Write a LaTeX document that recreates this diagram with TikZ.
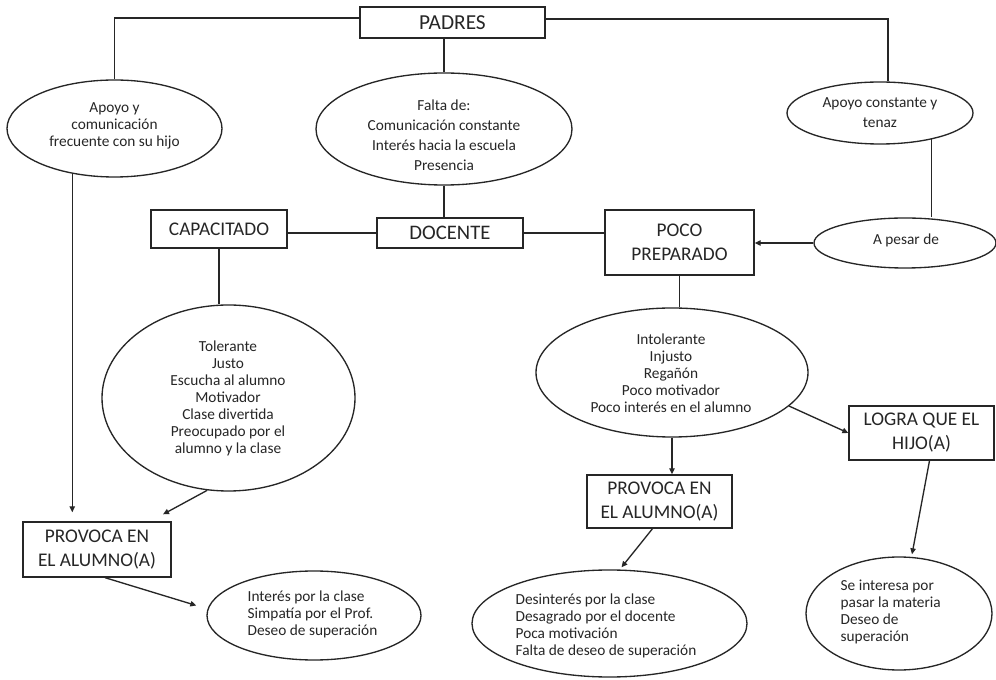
\documentclass[tikz,border=0pt]{standalone}
\usepackage{fontspec}
\setmainfont{Carlito}
\usetikzlibrary{shapes.geometric,arrows.meta,calc}
\begin{document}
\begin{tikzpicture}[x=0.75pt,y=-0.75pt,
  line width=1pt, color=black!85,
  el/.style 2 args={draw, ellipse, inner sep=0pt, minimum width=#1*0.75pt, minimum height=#2*0.75pt},
  bx/.style 2 args={draw, rectangle, inner sep=0pt, minimum width=#1*0.75pt, minimum height=#2*0.75pt, align=center, font=\fontsize{14.5}{18}\selectfont},
  txt/.style={inner sep=0pt, font=\fontsize{11.5}{12.75}\selectfont},
  arr/.style={-{Triangle[length=4.5pt,width=4pt]}}
]
\fill[white] (0,0) rectangle (996,680);
\useasboundingbox (0,0) rectangle (996,680);

\coordinate (y18) at (0,18);
\coordinate (y19) at (0,19);
\coordinate (x888) at (888,0);

% nodes
\node[bx={185}{31}, font=\fontsize{16}{19}\selectfont] (padres) at (452.5,22.5) {PADRES};
\node[el={215}{97}] (lell) at (114.5,128.5) {};
\node[txt, align=center] (lellT) at (114.5,126) {Apoyo y\\comunicación\\frecuente con su hijo};
\node[el={256}{112}] (mid) at (444,129) {};
\node[txt, align=center, font=\fontsize{11.5}{15}\selectfont] (midT) at (444,135) {Falta de:\\Comunicación constante\\Interés hacia la escuela\\Presencia};
\node[el={186}{62}] (apc) at (880,113) {};
\node[txt, align=center, font=\fontsize{11.5}{15}\selectfont] (apcT) at (880,113) {Apoyo constante y\\tenaz};
\node[el={182}{50}] (ap) at (905,243) {};
\node[txt] (apT) at (906,240) {A pesar de};

\node[bx={136}{38}] (cap) at (219,229) {CAPACITADO};
\node[bx={146}{30}, font=\fontsize{15.5}{18}\selectfont] (doc) at (450,233) {DOCENTE};
\node[bx={149}{65}] (poco) at (679.5,242.5) {POCO\\PREPARADO};

\node[el={253}{186}] (tol) at (228.5,398) {};
\node[txt, align=center] (tolT) at (228,398.5) {Tolerante\\Justo\\Escucha al alumno\\Motivador\\Clase divertida\\Preocupado por el\\alumno y la clase};
\node[el={272}{129}] (intol) at (672,372.5) {};
\node[txt, align=center] (intolT) at (671,373) {Intolerante\\Injusto\\Regañón\\Poco motivador\\Poco interés en el alumno};

\node[bx={148}{55}] (prov1) at (97,549.5) {PROVOCA EN\\EL ALUMNO(A)};
\node[bx={145}{53}] (prov2) at (659.5,501.5) {PROVOCA EN\\EL ALUMNO(A)};
\node[bx={145}{54}] (logra) at (921.5,433) {LOGRA QUE EL\\HIJO(A)};

\node[el={275}{107}] (des) at (609.5,623.5) {};
\node[txt, align=left, anchor=west] (desT) at (515,626) {Desinterés por la clase\\Desagrado por el docente\\Poca motivación\\Falta de deseo de superación};
\node[el={186}{113}] (se) at (899,613.5) {};
\node[txt, align=left, anchor=west] (seT) at (840,612) {Se interesa por\\pasar la materia\\Deseo de\\superación};
\node[el={214}{89}] (int) at (314,615.5) {};
\node[txt, align=left, anchor=west] (intT) at (247,614) {Interés por la clase\\Simpatía por el Prof.\\Deseo de superación};

% connectors
\draw (padres.west |- y18) -| (lell.north);
\draw (padres.east |- y19) -| (apc.north -| x888);
\draw (padres.south -| mid.north) -- (mid.north);
\draw (mid.south) -- (mid.south |- doc.north);
\draw (doc.west -| cap.east) -- (doc.west);
\draw (doc.east) -- (doc.east -| poco.west);
\draw (apc.-27.5) -- (apc.-27.5 |- ap.north);
\draw[arr] (ap.west) -- (ap.west -| poco.east);
\draw (poco.south) -- (poco.south |- intol.north);
\draw[arr] (intol.south) -- (intol.south |- prov2.north);
\draw[arr] (intol.-16) -- (logra.west);
\draw[arr] ($(prov2.south)+(-7,0)$) -- ($(des.north)+(12,-2)$);
\draw[arr] ($(logra.south)+(8,0)$) -- ($(se.north)+(13,-2)$);
\draw (cap.south) -- (cap.south |- tol.north);
\draw[arr, shorten >=6.75pt] (lell.-133) -- (lell.-133 |- prov1.north);
\draw[arr] (tol.-103) -- ($(prov1.north)+(66,-7)$);
\draw[arr] ($(prov1.south)+(8,0)$) -- ($(int.west)+(-10,-10)$);
\end{tikzpicture}
\end{document}
